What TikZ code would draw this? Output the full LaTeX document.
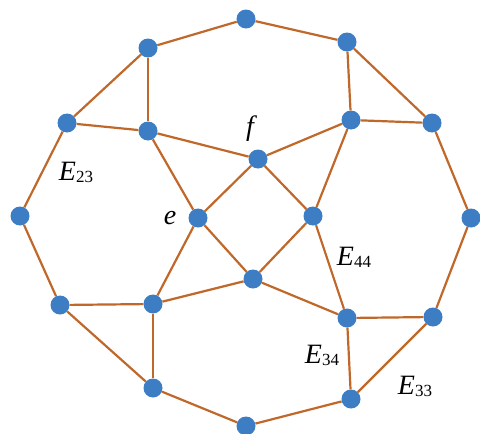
\documentclass[tikz,border=0pt]{standalone}
\usepackage{fontspec}
\setmainfont{Liberation Serif}
\usepackage{tikz}
\usetikzlibrary{positioning}

\definecolor{edgeorange}{RGB}{192,104,42}
\definecolor{vertexblue}{RGB}{60,125,196}

\newcommand{\elab}[1]{{\itshape E}{\fontsize{17}{17}\selectfont\raisebox{-2pt}{#1}}}

\begin{document}
\begin{tikzpicture}[
  x=1pt, y=-1pt,
  font=\fontsize{28}{30}\selectfont,
  vtx/.style={circle, fill=vertexblue, minimum size=19pt, inner sep=0pt},
  edge/.style={draw=edgeorange, line width=2.2pt},
  lab/.style={inner sep=0pt},
]
\useasboundingbox (0,0) rectangle (480,434);

% outer ring
\node[vtx] (top)   at (246,19)  {};
\node[vtx] (tl)    at (148,48)  {};
\node[vtx] (ul)    at (67,123)  {};
\node[vtx] (left)  at (20,216)  {};
\node[vtx] (ll)    at (60,305)  {};
\node[vtx] (bl)    at (153,388) {};
\node[vtx] (bot)   at (246,426) {};
\node[vtx] (br)    at (351,399) {};
\node[vtx] (lr)    at (433,317) {};
\node[vtx] (right) at (471,218) {};
\node[vtx] (ur)    at (432,123) {};
\node[vtx] (tr)    at (347,42)  {};

% inner triangles
\node[vtx] (k1) at (148,131) {};
\node[vtx] (k2) at (351,120) {};
\node[vtx] (k3) at (347,318) {};
\node[vtx] (k4) at (153,304) {};

% central square
\node[vtx] (e) at (198,218) {};
\node[vtx] (f) at (258,159) {};
\node[vtx] (n) at (313,216) {};
\node[vtx] (p) at (253,279) {};

\draw[edge] (top)--(tl)--(ul)--(left)--(ll)--(bl)--(bot)--(br)--(lr)--(right)--(ur)--(tr)--(top);
\draw[edge] (tl)--(k1); \draw[edge] (ul)--(k1); \draw[edge] (k1)--(f); \draw[edge] (k1)--(e);
\draw[edge] (tr)--(k2); \draw[edge] (ur)--(k2); \draw[edge] (k2)--(f); \draw[edge] (k2)--(n);
\draw[edge] (lr)--(k3); \draw[edge] (br)--(k3); \draw[edge] (k3)--(n); \draw[edge] (k3)--(p);
\draw[edge] (ll)--(k4); \draw[edge] (bl)--(k4); \draw[edge] (k4)--(e); \draw[edge] (k4)--(p);
\draw[edge] (e)--(f)--(n)--(p)--(e);

% labels
\node[lab] (lf)  at (250,129) {\itshape f};
\node[lab] (le)  at (170,218) {\itshape e};
\node[lab] (l23) at (76,172)  {\elab{23}};
\node[lab] (l44) at (354,257) {\elab{44}};
\node[lab] (l34) at (322,355) {\elab{34}};
\node[lab] (l33) at (415,386) {\elab{33}};
\end{tikzpicture}
\end{document}
